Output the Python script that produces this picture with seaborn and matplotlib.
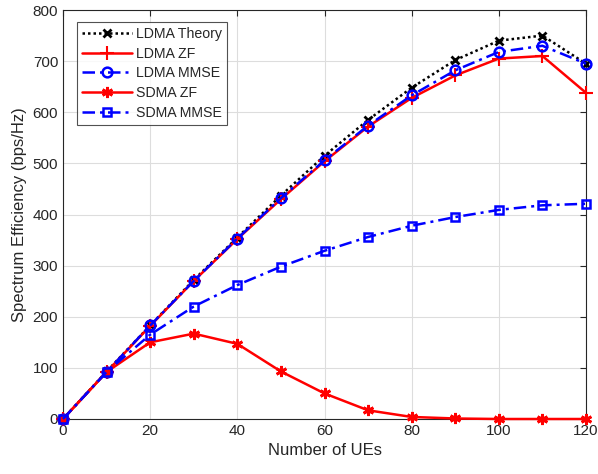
import matplotlib
matplotlib.use("Agg")
import matplotlib.pyplot as plt
import seaborn as sns
import pandas as pd

ues = [0, 10, 20, 30, 40, 50, 60, 70, 80, 90, 100, 110, 120]
ldma_theory = [0, 93, 183, 272, 355, 437, 515, 585, 648, 702, 740, 750, 695]
ldma_zf = [0, 92, 182, 270, 352, 430, 504, 572, 628, 672, 705, 710, 638]
ldma_mmse = [0, 92, 183, 270, 353, 432, 506, 574, 633, 682, 718, 730, 695]
sdma_zf = [0, 92, 150, 167, 147, 93, 50, 17, 4, 1, 0, 0, 0]
sdma_mmse = [0, 92, 165, 220, 262, 298, 329, 356, 378, 395, 409, 418, 421]

sns.set_style("white")
plt.rcParams['font.family'] = ['Liberation Sans', 'DejaVu Sans']

fig = plt.figure(figsize=(5.98, 4.74), dpi=100)
ax = fig.add_axes([63/598, 1-419/474, (586-63)/598, (419-10)/474])

series = [
    ("LDMA Theory", ldma_theory, dict(color="black", linestyle=(0, (1, 1.2)), marker="x", markersize=6, markeredgewidth=2)),
    ("LDMA ZF", ldma_zf, dict(color="red", linestyle="-", marker="+", markersize=10, markeredgewidth=1.5)),
    ("LDMA MMSE", ldma_mmse, dict(color="blue", linestyle=(0, (5, 2, 1.2, 2)), marker="o", markersize=7, markeredgewidth=1.8, markerfacecolor="none")),
    ("SDMA ZF", sdma_zf, dict(color="red", linestyle="-", marker=(6, 2, 0), markersize=8, markeredgewidth=2)),
    ("SDMA MMSE", sdma_mmse, dict(color="blue", linestyle=(0, (5, 2, 1.2, 2)), marker="s", markersize=6, markeredgewidth=1.8, markerfacecolor="none")),
]

for name, vals, st in series:
    df = pd.DataFrame({"x": ues, "y": vals})
    sns.lineplot(data=df, x="x", y="y", ax=ax, color=st["color"], linewidth=1.8, legend=False)
    line = ax.lines[-1]
    line.set_label(name)
    line.set(**st)
    line.set_markeredgecolor(st["color"])
    line.set_clip_on(False)
    line.set_zorder(3)

ax.set_xlim(0, 120)
ax.set_ylim(0, 800)
ax.set_xticks(range(0, 121, 20))
ax.set_yticks(range(0, 801, 100))
ax.grid(True, color="#dddddd", linewidth=0.8)
ax.set_axisbelow(True)
ax.tick_params(direction="in", length=4, labelsize=11, colors="#262626", top=True, right=True)
for s in ax.spines.values():
    s.set_color("#262626")
    s.set_linewidth(0.8)
ax.set_xlabel("Number of UEs", fontsize=12, color="#262626")
ax.set_ylabel("Spectrum Efficiency (bps/Hz)", fontsize=12, color="#262626")
leg = ax.legend(loc="upper left", bbox_to_anchor=(0.006, 0.998), fontsize=10.2, frameon=True,
                fancybox=False, edgecolor="#262626", handlelength=3.5, borderaxespad=0.8,
                labelspacing=0.4, handletextpad=0.3, borderpad=0.35)
leg.get_frame().set_linewidth(0.8)
leg.set_zorder(5)
fig.savefig("out.png", dpi=100)
